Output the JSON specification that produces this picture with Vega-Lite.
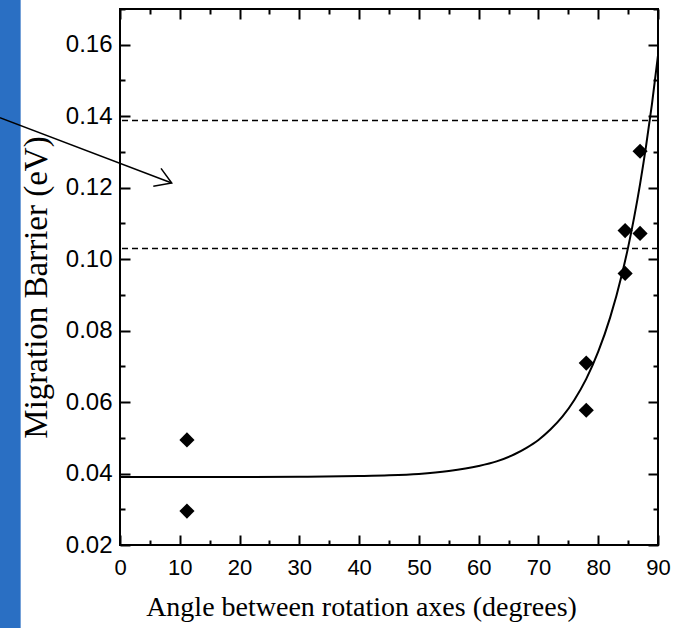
{
  "$schema": "https://vega.github.io/schema/vega-lite/v6.json",
  "width": 538,
  "height": 536,
  "autosize": {"type": "none"},
  "padding": {"left": 120, "top": 9, "right": 26, "bottom": 83},
  "background": "white",
  "config": {
    "view": {"stroke": "black", "strokeWidth": 2},
    "axis": {"grid": false, "domain": false, "tickColor": "black", "tickWidth": 2, "labelColor": "black", "titleColor": "black"}
  },
  "datasets": {
    "points": [
      {"angle": 11.2, "barrier": 0.0494},
      {"angle": 11.2, "barrier": 0.0295},
      {"angle": 78.0, "barrier": 0.0709},
      {"angle": 78.0, "barrier": 0.0577},
      {"angle": 84.5, "barrier": 0.1080},
      {"angle": 87.0, "barrier": 0.1072},
      {"angle": 84.5, "barrier": 0.0960},
      {"angle": 87.0, "barrier": 0.1302}
    ],
    "fit": [
      {"angle": 0, "barrier": 0.0390},
      {"angle": 10, "barrier": 0.0390},
      {"angle": 20, "barrier": 0.0390},
      {"angle": 30, "barrier": 0.0391},
      {"angle": 40, "barrier": 0.0393},
      {"angle": 45, "barrier": 0.0395},
      {"angle": 50, "barrier": 0.0399},
      {"angle": 55, "barrier": 0.0407},
      {"angle": 60, "barrier": 0.0421},
      {"angle": 63, "barrier": 0.0434},
      {"angle": 66, "barrier": 0.0454},
      {"angle": 68, "barrier": 0.0472},
      {"angle": 70, "barrier": 0.0494},
      {"angle": 72, "barrier": 0.0523},
      {"angle": 74, "barrier": 0.0559},
      {"angle": 76, "barrier": 0.0606},
      {"angle": 78, "barrier": 0.0665},
      {"angle": 80, "barrier": 0.0741},
      {"angle": 82, "barrier": 0.0837},
      {"angle": 84, "barrier": 0.0960},
      {"angle": 85, "barrier": 0.1033},
      {"angle": 86, "barrier": 0.1116},
      {"angle": 87, "barrier": 0.1210},
      {"angle": 88, "barrier": 0.1316},
      {"angle": 89, "barrier": 0.1435},
      {"angle": 90, "barrier": 0.1570}
    ],
    "levels": [{"barrier": 0.1388}, {"barrier": 0.1030}],
    "arrow": [
      {"part": "shaft", "order": 0, "angle": -20.1, "barrier": 0.1396},
      {"part": "shaft", "order": 1, "angle": 8.65, "barrier": 0.1213},
      {"part": "head", "order": 0, "angle": 6.86, "barrier": 0.1254},
      {"part": "head", "order": 1, "angle": 8.65, "barrier": 0.1213},
      {"part": "head", "order": 2, "angle": 5.57, "barrier": 0.1204}
    ],
    "strip": [{"a1": -20.2, "a2": -16.62, "b1": -0.01, "b2": 0.18}]
  },
  "layer": [
    {
      "data": {"name": "strip"},
      "mark": {"type": "rect", "clip": false, "color": "#2a6fc3"},
      "encoding": {
        "x": {"field": "a1", "type": "quantitative", "scale": {"domain": [0, 90], "nice": false, "zero": false}, "axis": null},
        "x2": {"field": "a2"},
        "y": {"field": "b1", "type": "quantitative", "scale": {"domain": [0.02, 0.17], "nice": false, "zero": false}, "axis": null},
        "y2": {"field": "b2"}
      }
    },
    {
      "data": {"name": "levels"},
      "mark": {"type": "rule", "color": "black", "strokeWidth": 1.5, "strokeDash": [6, 4]},
      "encoding": {
        "y": {"field": "barrier", "type": "quantitative", "scale": {"domain": [0.02, 0.17], "nice": false, "zero": false}, "axis": null}
      }
    },
    {
      "data": {"name": "arrow"},
      "mark": {"type": "line", "clip": false, "color": "black", "strokeWidth": 1.5},
      "encoding": {
        "x": {"field": "angle", "type": "quantitative", "scale": {"domain": [0, 90], "nice": false, "zero": false}, "axis": null},
        "y": {"field": "barrier", "type": "quantitative", "scale": {"domain": [0.02, 0.17], "nice": false, "zero": false}, "axis": null},
        "detail": {"field": "part"},
        "order": {"field": "order"}
      }
    },
    {
      "data": {"name": "fit"},
      "mark": {"type": "line", "color": "black", "strokeWidth": 2, "interpolate": "monotone"},
      "encoding": {
        "x": {"field": "angle", "type": "quantitative", "scale": {"domain": [0, 90], "nice": false, "zero": false},
          "axis": {"orient": "top", "values": [0,5,10,15,20,25,30,35,40,45,50,55,60,65,70,75,80,85,90], "labels": false, "title": null,
            "tickSize": {"condition": {"test": "datum.value % 10 === 0", "value": -10}, "value": -5}}},
        "y": {"field": "barrier", "type": "quantitative", "scale": {"domain": [0.02, 0.17], "nice": false, "zero": false},
          "axis": {"orient": "right", "values": [0.02,0.03,0.04,0.05,0.06,0.07,0.08,0.09,0.10,0.11,0.12,0.13,0.14,0.15,0.16,0.17], "labels": false, "title": null,
            "tickSize": {"condition": {"test": "round(datum.value*100) % 2 === 0", "value": -10}, "value": -5}}}
      }
    },
    {
      "data": {"name": "points"},
      "mark": {"type": "point", "shape": "diamond", "filled": true, "color": "black", "opacity": 1, "size": 230},
      "encoding": {
        "x": {"field": "angle", "type": "quantitative", "scale": {"domain": [0, 90], "nice": false, "zero": false},
          "axis": {"orient": "bottom", "values": [0,5,10,15,20,25,30,35,40,45,50,55,60,65,70,75,80,85,90],
            "labelExpr": "datum.value % 10 === 0 ? datum.label : ''", "labelFlush": false, "labelOverlap": false,
            "labelFont": "Liberation Sans", "labelFontSize": 22, "labelPadding": 22,
            "tickSize": {"condition": {"test": "datum.value % 10 === 0", "value": -10}, "value": -5},
            "title": "Angle between rotation axes (degrees)", "titleFont": "Liberation Serif", "titleFontSize": 28, "titleFontWeight": "normal",
            "titleX": 241, "titleY": 70, "titleBaseline": "alphabetic", "titleAlign": "center", "titleAnchor": null}},
        "y": {"field": "barrier", "type": "quantitative", "scale": {"domain": [0.02, 0.17], "nice": false, "zero": false},
          "axis": {"orient": "left", "values": [0.02,0.03,0.04,0.05,0.06,0.07,0.08,0.09,0.10,0.11,0.12,0.13,0.14,0.15,0.16,0.17],
            "format": ".2f", "labelExpr": "round(datum.value*100) % 2 === 0 && datum.value < 0.165 ? datum.label : ''", "labelOverlap": false, "labelFlush": false,
            "labelFont": "Liberation Sans", "labelFontSize": 24, "labelPadding": 18,
            "tickSize": {"condition": {"test": "round(datum.value*100) % 2 === 0", "value": -10}, "value": -5},
            "title": "Migration Barrier (eV)", "titleFont": "Liberation Serif", "titleFontSize": 33, "titleFontWeight": "normal",
            "titleAngle": -90, "titleX": -74, "titleY": 278, "titleBaseline": "alphabetic", "titleAlign": "center", "titleAnchor": null}}
      }
    }
  ],
  "resolve": {"axis": {"x": "independent", "y": "independent"}}
}
